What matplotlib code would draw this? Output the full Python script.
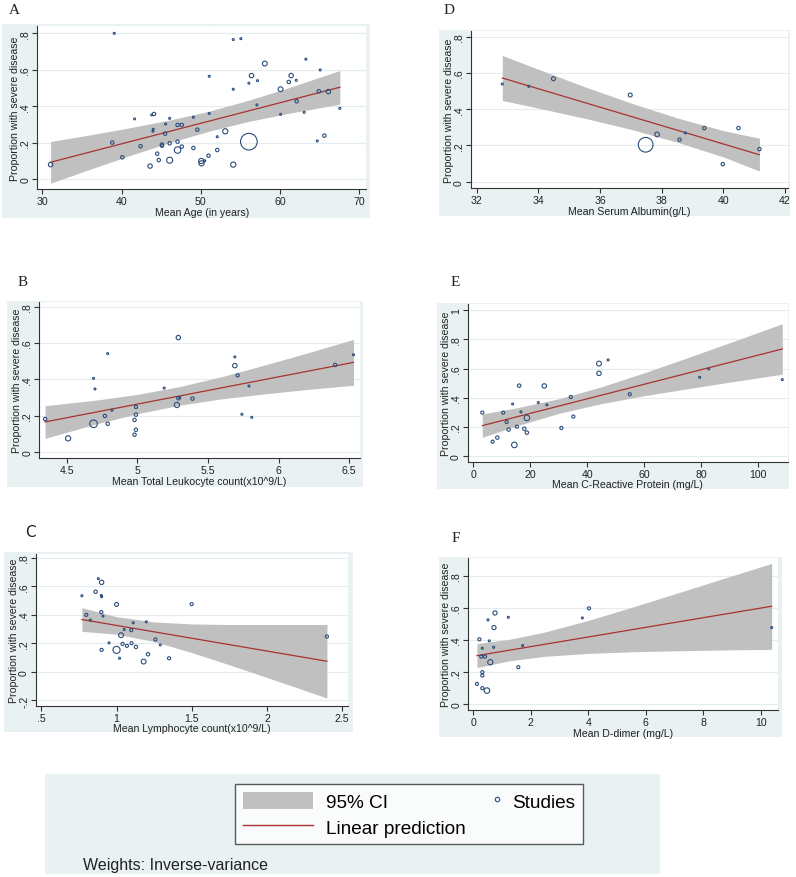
import matplotlib
matplotlib.use("Agg")
import matplotlib.pyplot as plt
from matplotlib.patches import Rectangle, Patch
from matplotlib.lines import Line2D
from matplotlib.legend_handler import HandlerLine2D

plt.rcParams["font.family"] = ["Liberation Sans", "DejaVu Sans"]

# ---- A: mean age ----
age_x = [31.05, 39.08, 38.83, 40.1, 41.65, 42.4, 43.6, 43.8, 44.1, 44.0,
         43.96, 44.5, 44.7, 45.1, 45.1, 45.5, 45.56, 46.07, 46.07, 46.07,
         47.07, 47.07, 47.07, 47.6, 47.6, 49.07, 49.07, 49.56, 50.06, 50.1,
         50.5, 50.98, 51.07, 51.07, 51.74, 52.08, 52.08, 53.09, 54.1, 54.1,
         54.1, 55.06, 56.07, 56.07, 56.4, 57.08, 57.16, 58.08, 60.07, 60.07,
         61.1, 61.4, 62.05, 62.1, 63.26, 63.05, 64.7, 64.9, 65.07, 65.6,
         66.1, 67.55]
age_y = [0.079, 0.800, 0.200, 0.119, 0.330, 0.180, 0.071, 0.352, 0.357, 0.273,
         0.262, 0.139, 0.104, 0.189, 0.183, 0.249, 0.302, 0.333, 0.196, 0.103,
         0.297, 0.205, 0.159, 0.297, 0.178, 0.339, 0.170, 0.271, 0.099, 0.086,
         0.100, 0.128, 0.564, 0.360, 0.848, 0.232, 0.159, 0.262, 0.766, 0.493,
         0.079, 0.771, 0.205, 0.526, 0.568, 0.407, 0.540, 0.634, 0.493, 0.355,
         0.533, 0.568, 0.542, 0.427, 0.658, 0.366, 0.209, 0.482, 0.599, 0.238,
         0.480, 0.388]
age_w = [10, 2, 6, 6, 2, 6, 10, 2, 6, 2,
         2, 6, 6, 6, 6, 6, 2, 2, 6, 19,
         6, 6, 22, 6, 6, 2, 6, 6, 14, 14,
         2, 6, 2, 2, 2, 2, 6, 14, 2, 2,
         14, 2, 144, 2, 10, 2, 2, 12, 12, 2,
         6, 10, 2, 6, 2, 2, 2, 6, 2, 6,
         10, 2]
age_fit_x = [31.05, 67.55]
age_fit_y = [0.092, 0.504]
age_ci_x = [31.05, 36, 41, 46, 51, 56, 61, 67.55]
age_ci_lo = [-0.023, 0.053, 0.128, 0.199, 0.262, 0.316, 0.360, 0.411]
age_ci_hi = [0.206, 0.242, 0.281, 0.323, 0.372, 0.432, 0.500, 0.596]

# ---- D: serum albumin ----
alb_x = [32.83, 33.69, 34.49, 36.98, 37.48, 37.85, 38.58, 38.77, 39.38, 39.98, 40.49, 41.17]
alb_y = [0.539, 0.526, 0.568, 0.478, 0.204, 0.261, 0.232, 0.269, 0.296, 0.097, 0.296, 0.180]
alb_w = [2, 2, 8, 8, 112, 11, 6, 2, 6, 6, 6, 6]
alb_fit_x = [32.83, 41.17]
alb_fit_y = [0.572, 0.149]
alb_ci_x = [32.83, 34, 35.5, 37, 38.5, 40, 41.17]
alb_ci_lo = [0.448, 0.406, 0.350, 0.289, 0.218, 0.137, 0.059]
alb_ci_hi = [0.696, 0.620, 0.524, 0.434, 0.352, 0.282, 0.240]

# ---- B: total leukocyte count ----
wbc_x = [4.347, 4.51, 4.69, 4.69, 4.70, 4.77, 4.79, 4.79, 4.82, 4.98,
         4.98, 4.99, 4.99, 4.99, 5.19, 5.28, 5.29, 5.29, 5.30, 5.39,
         5.69, 5.69, 5.71, 5.74, 5.79, 5.81, 6.40, 6.53]
wbc_y = [0.183, 0.077, 0.157, 0.406, 0.348, 0.200, 0.542, 0.157, 0.231, 0.178,
         0.097, 0.249, 0.207, 0.124, 0.353, 0.260, 0.297, 0.630, 0.300, 0.295,
         0.524, 0.476, 0.423, 0.209, 0.364, 0.192, 0.480, 0.536]
wbc_w = [6, 14, 30, 2, 2, 6, 2, 6, 2, 6,
         6, 5, 6, 6, 2, 14, 6, 10, 2, 6,
         2, 10, 5, 2, 2, 2, 6, 2]
wbc_fit_x = [4.347, 6.53]
wbc_fit_y = [0.167, 0.494]
wbc_ci_x = [4.347, 4.7, 5.0, 5.3, 5.6, 5.9, 6.2, 6.53]
wbc_ci_lo = [0.077, 0.154, 0.212, 0.259, 0.294, 0.321, 0.345, 0.368]
wbc_ci_hi = [0.256, 0.286, 0.318, 0.361, 0.416, 0.479, 0.545, 0.620]

# ---- E: C-reactive protein ----
crp_x = [3.16, 6.78, 8.42, 10.5, 11.7, 12.4, 13.8, 14.4, 15.3, 16.1,
         16.7, 17.9, 18.8, 18.8, 22.8, 24.9, 25.8, 30.9, 34.2, 35.1,
         44.1, 44.1, 47.3, 54.9, 79.4, 82.6, 108.4]
crp_y = [0.299, 0.100, 0.128, 0.299, 0.235, 0.183, 0.358, 0.078, 0.203, 0.484,
         0.304, 0.189, 0.263, 0.162, 0.368, 0.482, 0.352, 0.194, 0.406, 0.272,
         0.635, 0.568, 0.660, 0.425, 0.541, 0.598, 0.525]
crp_w = [5, 5, 6, 5, 5, 6, 2, 16, 5, 6,
         2, 6, 16, 6, 2, 10, 2, 5, 5, 5,
         12, 10, 2, 5, 2, 2, 2]
crp_fit_x = [3.16, 108.4]
crp_fit_y = [0.210, 0.735]
crp_ci_x = [3.16, 15, 30, 45, 60, 75, 90, 108.4]
crp_ci_lo = [0.130, 0.207, 0.294, 0.361, 0.415, 0.462, 0.508, 0.562]
crp_ci_hi = [0.290, 0.331, 0.394, 0.476, 0.572, 0.674, 0.778, 0.908]

# ---- C: lymphocyte count ----
lym_x = [0.770, 0.799, 0.826, 0.861, 0.879, 0.901, 0.899, 0.901, 0.899, 0.910,
         0.901, 0.950, 1.0, 1.0, 1.02, 1.03, 1.04, 1.051, 1.069, 1.098,
         1.100, 1.111, 1.129, 1.180, 1.198, 1.209, 1.258, 1.291, 1.349, 1.499,
         2.398]
lym_y = [0.535, 0.401, 0.364, 0.563, 0.655, 0.629, 0.537, 0.528, 0.420, 0.392,
         0.155, 0.204, 0.474, 0.155, 0.096, 0.258, 0.197, 0.298, 0.183, 0.293,
         0.202, 0.345, 0.176, 0.073, 0.352, 0.124, 0.228, 0.190, 0.096, 0.476,
         0.249]
lym_w = [2, 5, 2, 6, 2, 10, 2, 2, 5, 2,
         5, 2, 8, 26, 2, 12, 5, 2, 5, 5,
         5, 2, 6, 12, 2, 6, 5, 2, 5, 5,
         5]
lym_fit_x = [0.77, 2.398]
lym_fit_y = [0.368, 0.075]
lym_ci_x = [0.77, 1.0, 1.25, 1.5, 1.75, 2.0, 2.398]
lym_ci_lo = [0.285, 0.265, 0.213, 0.136, 0.050, -0.039, -0.183]
lym_ci_hi = [0.451, 0.388, 0.351, 0.337, 0.333, 0.333, 0.333]

# ---- F: D-dimer ----
ddi_x = [0.127, 0.209, 0.278, 0.313, 0.313, 0.313, 0.313, 0.406, 0.475, 0.510,
         0.556, 0.591, 0.718, 0.707, 0.753, 1.217, 1.564, 1.715, 3.79, 4.02,
         10.37]
ddi_y = [0.127, 0.405, 0.297, 0.349, 0.200, 0.179, 0.100, 0.297, 0.085, 0.526,
         0.395, 0.262, 0.478, 0.355, 0.569, 0.542, 0.231, 0.366, 0.538, 0.598,
         0.478]
ddi_w = [5, 5, 5, 2, 5, 5, 5, 5, 16, 2,
         2, 14, 9, 2, 9, 2, 5, 2, 2, 5,
         2]
ddi_fit_x = [0.127, 10.37]
ddi_fit_y = [0.303, 0.611]
ddi_ci_x = [0.127, 1.27, 2.5, 4, 5.5, 7, 8.5, 10.37]
ddi_ci_lo = [0.229, 0.271, 0.299, 0.317, 0.327, 0.333, 0.338, 0.342]
ddi_ci_hi = [0.378, 0.405, 0.451, 0.523, 0.604, 0.688, 0.773, 0.878]

W, H = 796, 878
BG = "#e9f1f3"
NAVY = "#2a4d7a"
LINE_RED = "#a8322f"
CI_GRAY = "#c0c0c0"
GRID = "#e3ecef"
AXIS = "#333333"
TICK_FS = 7.6

# layout in pixels: background box, plot box, panel letter
panels = [
    dict(letter="A", bg=(2, 25, 370, 219), box=(37.3, 26.7, 366, 190), lpos=(14, 10),
         x=age_x, y=age_y, w=age_w, fx=age_fit_x, fy=age_fit_y,
         cx=age_ci_x, clo=age_ci_lo, chi=age_ci_hi,
         xlim=(29.37, 70.85), ylim=(-0.055, 0.842),
         xticks=[30, 40, 50, 60, 70], yticks=[0, 0.2, 0.4, 0.6, 0.8],
         xlabel="Mean Age (in years)"),
    dict(letter="D", bg=(439.3, 31, 790, 216.7), box=(470.7, 32, 788, 189.3), lpos=(449, 10),
         x=alb_x, y=alb_y, w=alb_w, fx=alb_fit_x, fy=alb_fit_y,
         cx=alb_ci_x, clo=alb_ci_lo, chi=alb_ci_hi,
         xlim=(31.805, 42.097), ylim=(-0.036, 0.831),
         xticks=[32, 34, 36, 38, 40, 42], yticks=[0, 0.2, 0.4, 0.6, 0.8],
         xlabel="Mean Serum Albumin(g/L)"),
    dict(letter="B", bg=(7, 301.7, 363, 487.7), box=(39.3, 302.7, 360, 459), lpos=(22.5, 283),
         x=wbc_x, y=wbc_y, w=wbc_w, fx=wbc_fit_x, fy=wbc_fit_y,
         cx=wbc_ci_x, clo=wbc_ci_lo, chi=wbc_ci_hi,
         xlim=(4.306, 6.576), ylim=(-0.031, 0.827),
         xticks=[4.5, 5, 5.5, 6, 6.5], yticks=[0, 0.2, 0.4, 0.6, 0.8],
         xlabel="Mean Total Leukocyte count(x10^9/L)"),
    dict(letter="E", bg=(436.7, 304, 789, 490), box=(467.7, 305, 788, 462.7), lpos=(455.5, 283),
         x=crp_x, y=crp_y, w=crp_w, fx=crp_fit_x, fy=crp_fit_y,
         cx=crp_ci_x, clo=crp_ci_lo, chi=crp_ci_hi,
         xlim=(-1.96, 110.4), ylim=(-0.037, 1.043),
         xticks=[0, 20, 40, 60, 80, 100], yticks=[0, 0.2, 0.4, 0.6, 0.8, 1],
         xlabel="Mean C-Reactive Protein (mg/L)"),
    dict(letter="C", bg=(4, 553.3, 352.7, 733.3), box=(36, 555, 348, 706.7), lpos=(30.5, 532.5),
         x=lym_x, y=lym_y, w=lym_w, fx=lym_fit_x, fy=lym_fit_y,
         cx=lym_ci_x, clo=lym_ci_lo, chi=lym_ci_hi,
         xlim=(0.465, 2.538), ylim=(-0.237, 0.828),
         xticks=[0.5, 1, 1.5, 2, 2.5], yticks=[-0.2, 0, 0.2, 0.4, 0.6, 0.8],
         xlabel="Mean Lymphocyte count(x10^9/L)"),
    dict(letter="F", bg=(439.3, 558.3, 782.3, 737.7), box=(468.3, 559.3, 778, 711), lpos=(455.5, 539),
         x=ddi_x, y=ddi_y, w=ddi_w, fx=ddi_fit_x, fy=ddi_fit_y,
         cx=ddi_ci_x, clo=ddi_ci_lo, chi=ddi_ci_hi,
         xlim=(-0.174, 10.59), ylim=(-0.036, 0.910),
         xticks=[0, 2, 4, 6, 8, 10], yticks=[0, 0.2, 0.4, 0.6, 0.8],
         xlabel="Mean D-dimer (mg/L)"),
]


def stata_num(v):
    s = "%g" % round(v, 6)
    if s.startswith("0."):
        return s[1:]
    if s.startswith("-0."):
        return "-" + s[2:]
    return s


def px_rect(x0, y0, x1, y1):
    return [x0 / W, 1 - y1 / H, (x1 - x0) / W, (y1 - y0) / H]


def add_background(fig, x0, y0, x1, y1):
    l, b, w, h = px_rect(x0, y0, x1, y1)
    fig.add_artist(Rectangle((l, b), w, h, transform=fig.transFigure,
                             facecolor=BG, edgecolor="none", zorder=-5))


def draw_panel(fig, p):
    add_background(fig, *p["bg"])
    ax = fig.add_axes(px_rect(*p["box"]))
    ax.set_facecolor("white")
    ax.fill_between(p["cx"], p["clo"], p["chi"], color=CI_GRAY, lw=0, zorder=2)
    ax.plot(p["fx"], p["fy"], color=LINE_RED, lw=0.9, zorder=3)
    ax.scatter(p["x"], p["y"], s=p["w"], facecolors="none", edgecolors=NAVY,
               linewidths=0.8, zorder=4)

    ax.set_xlim(*p["xlim"])
    ax.set_ylim(*p["ylim"])
    ax.set_xticks(p["xticks"])
    ax.set_yticks(p["yticks"])
    ax.set_xticklabels([stata_num(v) for v in p["xticks"]])
    ax.set_yticklabels([stata_num(v) for v in p["yticks"]], rotation=90, va="center")
    for v in p["yticks"]:
        ax.axhline(v, color=GRID, lw=0.8, zorder=1)

    for side in ("top", "right"):
        ax.spines[side].set_visible(False)
    for side in ("left", "bottom"):
        ax.spines[side].set_color(AXIS)
        ax.spines[side].set_linewidth(0.8)
    ax.tick_params(direction="out", length=3.5, width=0.8, color=AXIS,
                   labelsize=TICK_FS, labelcolor="#222222", pad=1.5)

    ax.set_xlabel(p["xlabel"], fontsize=TICK_FS, color="#222222", labelpad=0.5)
    ax.set_ylabel("Proportion with severe disease", fontsize=TICK_FS,
                  color="#222222", labelpad=0)

    lx, ly = p["lpos"]
    fam = ["DejaVu Sans"] if p["letter"] == "C" else ["Liberation Serif", "DejaVu Serif"]
    fig.text(lx / W, 1 - ly / H, p["letter"], fontsize=11, family=fam,
             ha="center", va="center", color="#222222")
    return ax


class MarkerAtRight(HandlerLine2D):
    """Place a single legend marker near the right end of its handle box."""

    def get_xdata(self, legend, xdescent, ydescent, width, height, fontsize):
        xm = -xdescent + width - 0.1 * fontsize
        return [xm - 0.5, xm + 0.5], [xm]


fig = plt.figure(figsize=(W / 100, H / 100), dpi=100)

for p in panels:
    draw_panel(fig, p)

# bottom legend region
add_background(fig, 45, 775, 660, 875)
ci_handle = Patch(facecolor=CI_GRAY, edgecolor="none")
fit_handle = Line2D([], [], color=LINE_RED, lw=1.0)
study_handle = Line2D([], [], marker="o", linestyle="none", markersize=3.2,
                      markerfacecolor="none", markeredgecolor=NAVY, markeredgewidth=0.8)
l, b, w, h = px_rect(235, 782.7, 582.7, 847.7)
leg = fig.legend([ci_handle, fit_handle, study_handle],
                 ["95% CI", "Linear prediction", "Studies"],
                 ncol=2, loc="center", bbox_to_anchor=(l, b, w, h), mode="expand",
                 borderaxespad=0, fontsize=13.7, frameon=True, fancybox=False,
                 handlelength=3.7, handleheight=1.05, handletextpad=0.7,
                 labelspacing=0.35, borderpad=0.4, columnspacing=1.0,
                 handler_map={study_handle: MarkerAtRight(numpoints=1)})
leg.get_frame().set_edgecolor("#333333")
leg.get_frame().set_linewidth(1.0)
leg.get_frame().set_facecolor("white")

fig.text(83.3 / W, 1 - 866 / H, "Weights: Inverse-variance", fontsize=11.5,
         ha="left", va="center", color="#222222")

fig.savefig("out.png", dpi=100)
